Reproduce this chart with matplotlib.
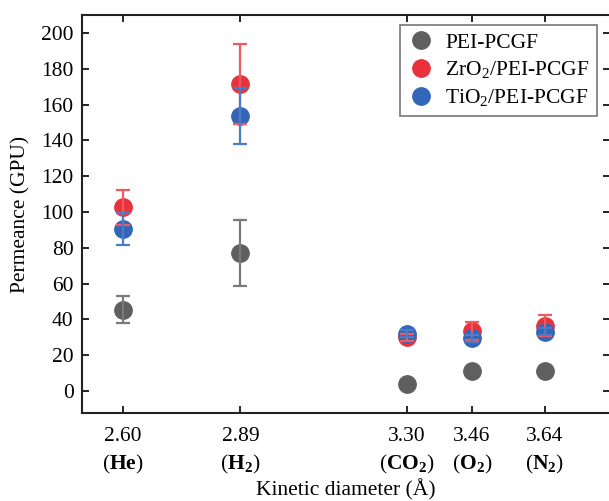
import matplotlib
matplotlib.use("Agg")
import matplotlib.pyplot as plt

plt.rcParams['font.family'] = ['Liberation Serif', 'DejaVu Serif']
plt.rcParams['mathtext.fontset'] = 'custom'
plt.rcParams['mathtext.rm'] = 'Liberation Serif'
plt.rcParams['mathtext.bf'] = 'Liberation Serif:bold'

diam = [2.60, 2.89, 3.30, 3.46, 3.64]
gas = [r"$\mathbf{He}$", r"$\mathbf{H_2}$", r"$\mathbf{CO_2}$", r"$\mathbf{O_2}$", r"$\mathbf{N_2}$"]
diam_labels = ["2.60", "2.89", "3.30", "3.46", "3.64"]

pei = [45.5, 77.0, 4.0, 11.0, 11.0]
pei_err = [7.5, 18.5, 0.0, 0.0, 0.0]
zr = [102.5, 171.5, 30.0, 33.5, 36.5]
zr_err = [10.0, 22.5, 2.0, 5.0, 6.0]
ti = [90.5, 153.5, 32.0, 29.5, 33.0]
ti_err = [9.0, 15.5, 2.0, 2.0, 2.0]

series = [
    ("PEI-PCGF", pei, pei_err, "#5f5f5f", "#7a7a7a"),
    (r"ZrO$_2$/PEI-PCGF", zr, zr_err, "#e8333c", "#ef5a60"),
    (r"TiO$_2$/PEI-PCGF", ti, ti_err, "#3366b8", "#4a7cc8"),
]

FS = 15.5

fig = plt.figure(figsize=(6.09, 5.01), dpi=100)
ax = fig.add_axes([82/609, 88/501, (610-82)/609, (413-15)/501])

for name, vals, err, mc, ec in series:
    ax.plot(diam, vals, 'o', color=mc, markersize=12.5, zorder=3, label=name, linestyle='none')
    xs = [d for d, e in zip(diam, err) if e > 0]
    ys = [v for v, e in zip(vals, err) if e > 0]
    es = [e for e in err if e > 0]
    ax.errorbar(xs, ys, yerr=es, fmt='none', ecolor=ec, elinewidth=1.6,
                capsize=5, capthick=1.6, zorder=4)

ax.set_xlim(2.5, 3.80)
ax.set_ylim(-12.3, 210)
ax.set_yticks(range(0, 201, 20))
ax.set_xticks(diam)
ax.set_xticklabels([f"{d}\n({g})" for d, g in zip(diam_labels, gas)], fontsize=FS, linespacing=1.45)
ax.tick_params(axis='both', direction='in', length=5, width=1.2, top=True, right=True, labelsize=FS)
ax.tick_params(axis='x', pad=10)
ax.tick_params(axis='y', pad=6)
for s in ax.spines.values():
    s.set_linewidth(1.5)
    s.set_color('#222222')

ax.set_ylabel("Permeance (GPU)", fontsize=FS, labelpad=8)
ax.set_xlabel("Kinetic diameter (Å)", fontsize=FS, labelpad=2)

leg = ax.legend(loc='upper right', fontsize=FS, frameon=True, fancybox=False, edgecolor='#555555',
                handletextpad=0.45, borderpad=0.35, labelspacing=0.3, handlelength=1.3,
                borderaxespad=0)
leg.get_frame().set_linewidth(1.2)
leg.set_bbox_to_anchor((597/609, (501-25)/501), transform=fig.transFigure)

fig.savefig("out.png", dpi=100)
